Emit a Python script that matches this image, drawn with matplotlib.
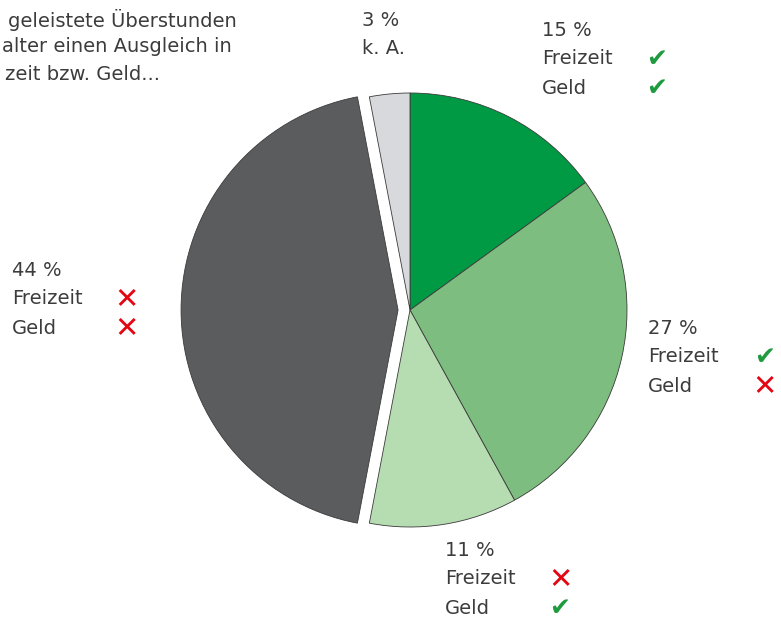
import matplotlib.pyplot as plt

# share of respondents, clockwise from 12 o'clock
shares = [15, 27, 11, 44, 3]
share_labels = ["15 %", "27 %", "11 %", "44 %", "3 %"]
slice_colors = ["#009a44", "#7dbd7f", "#b6dcb1", "#5b5c5e", "#d8d9dc"]
pull_out = [0, 0, 0, 0.055, 0]

# compensation: True = yes (check), False = no (cross), None = no answer
freizeit = [True, True, False, False, None]
geld = [True, False, True, False, None]

title_lines = ["geleistete Überstunden", "alter einen Ausgleich in", "zeit bzw. Geld..."]

W, H = 781, 621
R = 217
fig = plt.figure(figsize=(W / 100, H / 100), dpi=100)
ax = fig.add_axes([0, 0, 1, 1])

ax.pie(shares, colors=slice_colors, explode=[p * R for p in pull_out], startangle=90,
       counterclock=False, center=(410, H - 310), radius=R,
       wedgeprops=dict(edgecolor="#3a3a3a", linewidth=0.6))
ax.set_xlim(0, W)
ax.set_ylim(0, H)
ax.set_aspect("equal")
ax.axis("off")

txt = dict(fontsize=14, color="#3c3c3c", family="DejaVu Sans", va="center", ha="left")
ok = dict(fontsize=18, color="#1f9a3e", family="DejaVu Sans", va="center", ha="center")
no = dict(fontsize=21, color="#e30613", family="DejaVu Sans", va="center", ha="center")

# label anchors in pixels (left x, top y, mark x)
anchors = [(542, 30, 657), (648, 328, 765), (445, 550, 560), (12, 270, 127), (362, 20, None)]
step = 29

for i, (lx, ly, mx) in enumerate(anchors):
    ax.text(lx, H - ly, share_labels[i], **txt)
    if freizeit[i] is None:
        ax.text(lx, H - ly - step, "k. A.", **txt)
        continue
    ax.text(lx, H - ly - step, "Freizeit", **txt)
    ax.text(lx, H - ly - 2 * step, "Geld", **txt)
    for j, v in enumerate([freizeit[i], geld[i]]):
        if v:
            ax.text(mx, H - ly - (j + 1) * step, "\u2714", **ok)
        else:
            ax.text(mx, H - ly - (j + 1) * step, "\u2715", **no)

for k, line in enumerate(title_lines):
    ax.text([8, 2, 5][k], H - 20 - k * 27, line, **txt)

fig.savefig("out.png", dpi=100)
